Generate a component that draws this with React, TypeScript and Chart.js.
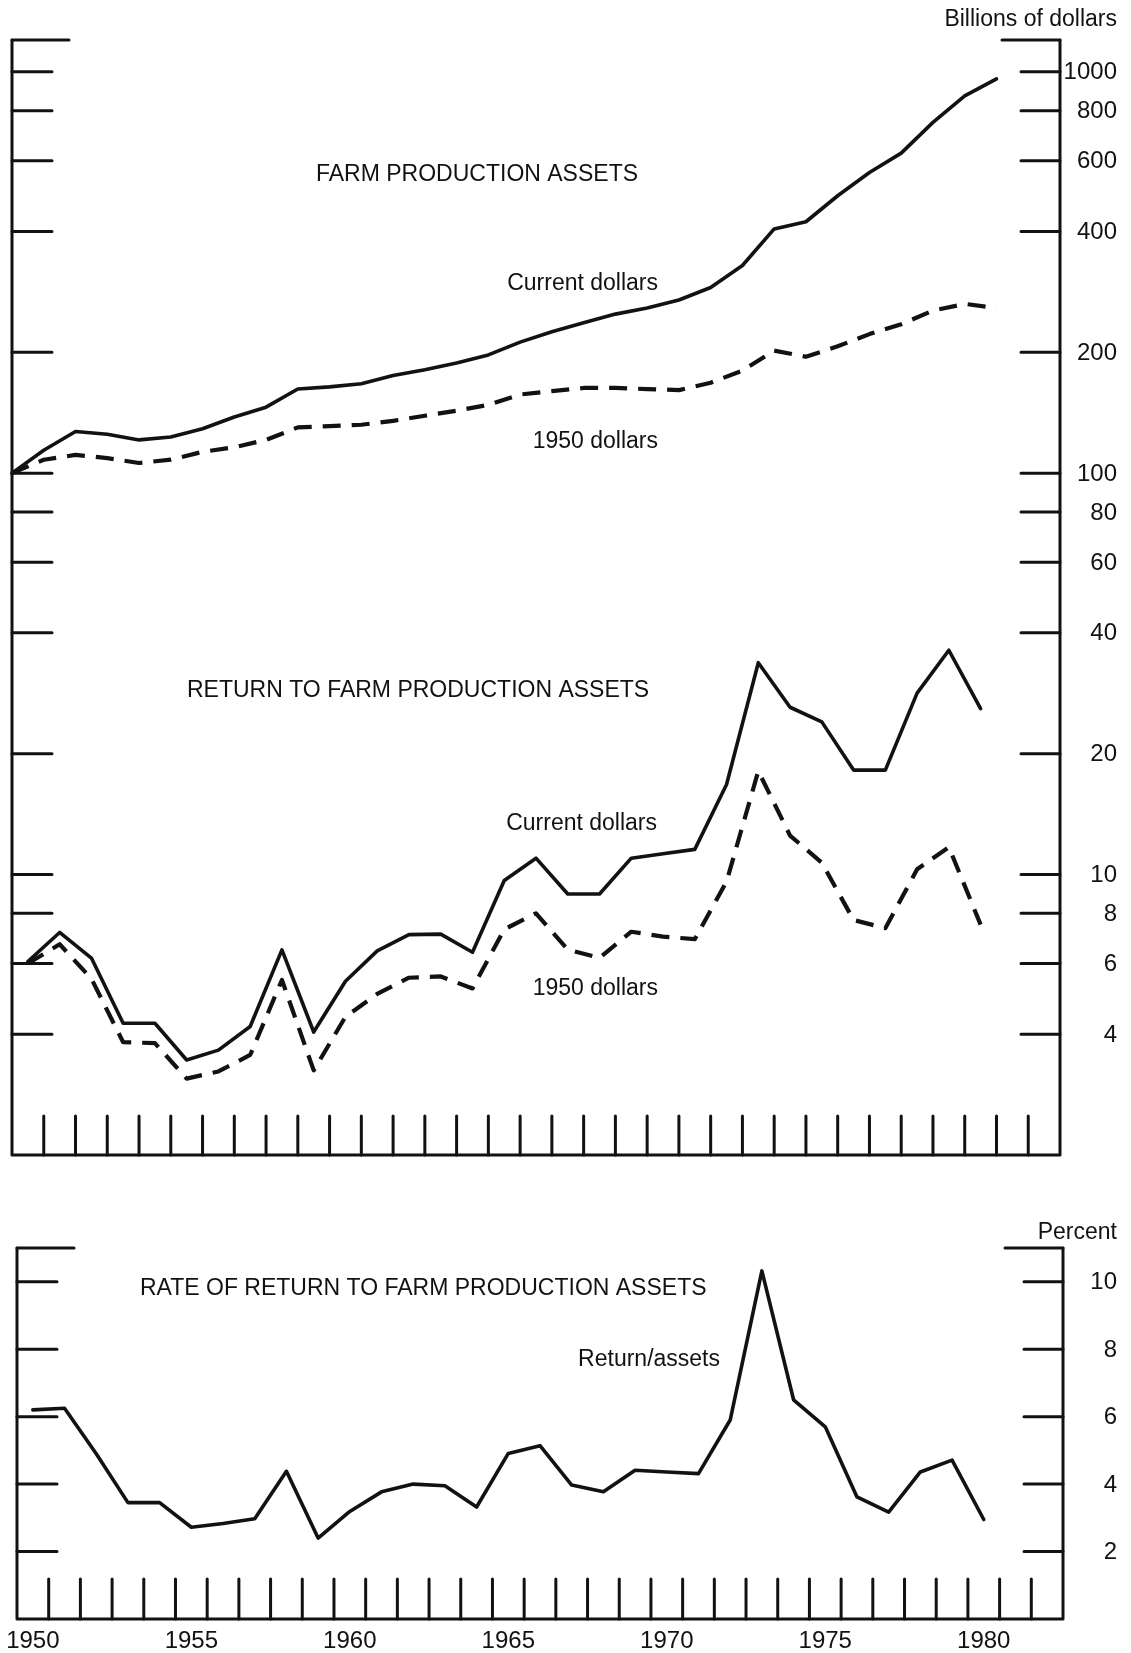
import React, { useEffect, useRef } from "react";
import { Chart, registerables } from "chart.js";

Chart.register(...registerables);

// ---------------- DATA ----------------
// Annual returns / rates (plotted at mid-year)
const returnYears = [
  1950, 1951, 1952, 1953, 1954, 1955, 1956, 1957, 1958, 1959, 1960, 1961, 1962, 1963, 1964, 1965,
  1966, 1967, 1968, 1969, 1970, 1971, 1972, 1973, 1974, 1975, 1976, 1977, 1978, 1979, 1980,
];
// Assets valued January 1 (plotted at start of year)
const assetYears = [
  1950, 1951, 1952, 1953, 1954, 1955, 1956, 1957, 1958, 1959, 1960, 1961, 1962, 1963, 1964, 1965,
  1966, 1967, 1968, 1969, 1970, 1971, 1972, 1973, 1974, 1975, 1976, 1977, 1978, 1979, 1980, 1981,
];

// Farm production assets, billions of dollars
const assetsCurrent = [
  100, 114, 127, 125, 121, 123, 129, 138, 146, 162, 164, 167, 175, 181, 188, 197,
  212, 225, 237, 249, 258, 270, 290, 329, 406, 423, 491, 561, 627, 748, 871, 960,
];
const assets1950 = [
  100, 108, 111, 109, 106, 108, 113, 116, 121, 130, 131, 132, 135, 139, 143, 148,
  157, 160, 163, 163, 162, 161, 168, 180, 202, 195, 207, 222, 235, 254, 264, 258,
];

// Return to farm production assets, billions of dollars
const returnCurrent = [
  6.07, 7.17, 6.19, 4.26, 4.26, 3.45, 3.65, 4.18, 6.49, 4.05, 5.42, 6.45, 7.08, 7.1, 6.4, 9.66,
  10.98, 8.94, 8.94, 10.98, 11.26, 11.55, 16.76, 33.7, 26.1, 24.0, 18.2, 18.2, 28.3, 36.2, 25.9,
];
const return1950 = [
  6.0, 6.7, 5.5, 3.82, 3.8, 3.1, 3.23, 3.55, 5.46, 3.25, 4.42, 5.04, 5.53, 5.57, 5.2, 7.3,
  8.0, 6.5, 6.2, 7.2, 7.0, 6.9, 9.6, 18.1, 12.5, 10.7, 7.7, 7.35, 10.3, 11.7, 7.5,
];

// Rate of return, percent
const rateOfReturn = [
  6.2, 6.25, 4.9, 3.45, 3.45, 2.72, 2.83, 2.97, 4.38, 2.4, 3.19, 3.77, 4.0, 3.95, 3.32, 4.91,
  5.14, 3.97, 3.77, 4.41, 4.36, 4.31, 5.9, 10.32, 6.5, 5.7, 3.62, 3.17, 4.36, 4.71, 2.95,
];

// Axis ticks
const topTickValues = [1000, 800, 600, 400, 200, 100, 80, 60, 40, 20, 10, 8, 6, 4];
const topTickLabels = ["1000", "800", "600", "400", "200", "100", "80", "60", "40", "20", "10", "8", "6", "4"];
const topMin = 2;
const topMax = 1200;
const bottomTickValues = [10, 8, 6, 4, 2];
const bottomTickLabels = ["10", "8", "6", "4", "2"];
const bottomMin = 0;
const bottomMax = 11;
const xStart = 1950;
const xEnd = 1983;
const yearBoundaries = [
  1951, 1952, 1953, 1954, 1955, 1956, 1957, 1958, 1959, 1960, 1961, 1962, 1963, 1964, 1965, 1966,
  1967, 1968, 1969, 1970, 1971, 1972, 1973, 1974, 1975, 1976, 1977, 1978, 1979, 1980, 1981, 1982,
];
const yearLabels = [1950, 1955, 1960, 1965, 1970, 1975, 1980];

// ---------------- STYLE ----------------
const FONT = '"Liberation Sans", Arial, Helvetica, sans-serif';
const INK = "#121212";

type Txt = { text: string; x: number; y: number; align: CanvasTextAlign; size?: number };

function makeFramePlugin(cfg: {
  canvasTop: number;
  yMax: number;
  ticks: number[];
  labels: string[];
  texts: Txt[];
  tickUp: number;
  showYears: boolean;
}) {
  return {
    id: "frame" + cfg.canvasTop,
    beforeDraw(chart: any) {
      const { ctx, width, height } = chart;
      ctx.save();
      ctx.fillStyle = "#ffffff";
      ctx.fillRect(0, 0, width, height);
      ctx.restore();
    },
    afterDatasetsDraw(chart: any) {
      const { ctx, chartArea: a, scales } = chart;
      const xs = scales.x;
      const ys = scales.y;
      const top = ys.getPixelForValue(cfg.yMax);
      ctx.save();
      ctx.strokeStyle = INK;
      ctx.lineWidth = 3;
      ctx.lineCap = "round";
      ctx.lineJoin = "round";
      // frame
      ctx.beginPath();
      ctx.moveTo(a.left, top);
      ctx.lineTo(a.left, a.bottom);
      ctx.lineTo(a.right, a.bottom);
      ctx.lineTo(a.right, top);
      ctx.stroke();
      // top segments
      ctx.beginPath();
      ctx.moveTo(a.left, top);
      ctx.lineTo(a.left + 57, top);
      ctx.moveTo(a.right - 58, top);
      ctx.lineTo(a.right, top);
      ctx.stroke();
      // y ticks
      ctx.beginPath();
      cfg.ticks.forEach((v) => {
        const py = ys.getPixelForValue(v);
        ctx.moveTo(a.left, py);
        ctx.lineTo(a.left + 40, py);
        ctx.moveTo(a.right - 39, py);
        ctx.lineTo(a.right, py);
      });
      ctx.stroke();
      // x ticks
      ctx.beginPath();
      yearBoundaries.forEach((b) => {
        const px = xs.getPixelForValue(b);
        ctx.moveTo(px, a.bottom);
        ctx.lineTo(px, a.bottom - cfg.tickUp);
      });
      ctx.stroke();
      // tick labels
      ctx.fillStyle = INK;
      ctx.font = `24px ${FONT}`;
      ctx.textAlign = "right";
      ctx.textBaseline = "middle";
      cfg.ticks.forEach((v, i) => {
        ctx.fillText(cfg.labels[i], 1117, ys.getPixelForValue(v) + 1);
      });
      // texts
      cfg.texts.forEach((t) => {
        ctx.font = `${t.size || 23}px ${FONT}`;
        ctx.textAlign = t.align;
        ctx.fillText(t.text, t.x, t.y - cfg.canvasTop);
      });
      if (cfg.showYears) {
        ctx.font = `24px ${FONT}`;
        ctx.textAlign = "center";
        yearLabels.forEach((yr) => {
          ctx.fillText(String(yr), xs.getPixelForValue(yr + 0.5), 1641 - cfg.canvasTop);
        });
      }
      ctx.restore();
    },
  };
}

const solid = (data: { x: number; y: number }[]) => ({
  data,
  borderColor: INK,
  borderWidth: 3.6,
  pointRadius: 0,
  tension: 0,
  fill: false,
  clip: false as any,
  borderJoinStyle: "round" as const,
  borderCapStyle: "round" as const,
});
const dashed = (data: { x: number; y: number }[]) => ({
  ...solid(data),
  borderWidth: 4.2,
  borderDash: [18, 11],
  borderCapStyle: "butt" as const,
});

export default function App() {
  const topRef = useRef<HTMLCanvasElement>(null);
  const botRef = useRef<HTMLCanvasElement>(null);

  useEffect(() => {
    const mid = (years: number[], vals: number[]) => years.map((yr, i) => ({ x: yr + 0.5, y: vals[i] }));
    const start = (years: number[], vals: number[]) => years.map((yr, i) => ({ x: yr, y: vals[i] }));

    const topChart = new Chart(topRef.current as HTMLCanvasElement, {
      type: "line",
      data: {
        datasets: [
          solid(start(assetYears, assetsCurrent)),
          dashed(start(assetYears, assets1950)),
          solid(mid(returnYears, returnCurrent)),
          dashed(mid(returnYears, return1950)),
        ] as any,
      },
      options: {
        animation: false,
        responsive: false,
        devicePixelRatio: 1,
        layout: { padding: { left: 12, right: 71, top: 40, bottom: 45 } },
        plugins: { legend: { display: false }, tooltip: { enabled: false } },
        scales: {
          x: { type: "linear", min: xStart, max: xEnd, display: false },
          y: { type: "logarithmic", min: topMin, max: topMax, display: false },
        },
      },
      plugins: [
        makeFramePlugin({
          canvasTop: 0,
          yMax: topMax,
          ticks: topTickValues,
          labels: topTickLabels,
          tickUp: 39,
          showYears: false,
          texts: [
            { text: "Billions of dollars", x: 1117, y: 20, align: "right" },
            { text: "FARM PRODUCTION ASSETS", x: 316, y: 175, align: "left" },
            { text: "Current dollars", x: 658, y: 284, align: "right" },
            { text: "1950 dollars", x: 658, y: 442, align: "right" },
            { text: "RETURN TO FARM PRODUCTION ASSETS", x: 187, y: 691, align: "left" },
            { text: "Current dollars", x: 657, y: 824, align: "right" },
            { text: "1950 dollars", x: 658, y: 989, align: "right" },
          ],
        }),
      ],
    });

    const botChart = new Chart(botRef.current as HTMLCanvasElement, {
      type: "line",
      data: {
        datasets: [solid(mid(returnYears, rateOfReturn))] as any,
      },
      options: {
        animation: false,
        responsive: false,
        devicePixelRatio: 1,
        layout: { padding: { left: 17, right: 68, top: 48, bottom: 34 } },
        plugins: { legend: { display: false }, tooltip: { enabled: false } },
        scales: {
          x: { type: "linear", min: xStart, max: xEnd, display: false },
          y: { type: "linear", min: bottomMin, max: bottomMax, display: false },
        },
      },
      plugins: [
        makeFramePlugin({
          canvasTop: 1200,
          yMax: bottomMax,
          ticks: bottomTickValues,
          labels: bottomTickLabels,
          tickUp: 40,
          showYears: true,
          texts: [
            { text: "Percent", x: 1117, y: 1233, align: "right" },
            { text: "RATE OF RETURN TO FARM PRODUCTION ASSETS", x: 140, y: 1289, align: "left" },
            { text: "Return/assets", x: 720, y: 1360, align: "right" },
          ],
        }),
      ],
    });

    return () => {
      topChart.destroy();
      botChart.destroy();
    };
  }, []);

  return (
    <div style={{ position: "absolute", left: 0, top: 0, width: 1131, height: 1653, background: "#fff" }}>
      <canvas ref={topRef} width={1131} height={1200} style={{ position: "absolute", left: 0, top: 0, display: "block" }} />
      <canvas ref={botRef} width={1131} height={453} style={{ position: "absolute", left: 0, top: 1200, display: "block" }} />
    </div>
  );
}
